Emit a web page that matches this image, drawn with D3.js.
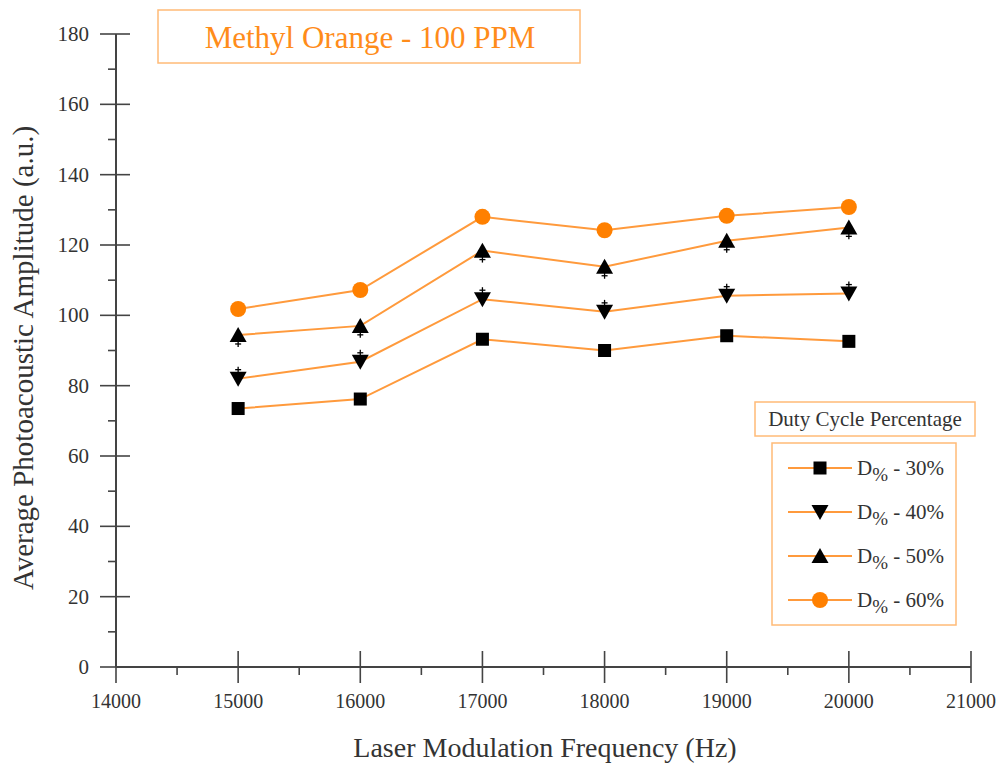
<!DOCTYPE html>
<html>
  <head>
    <title>Methyl Orange - 100 PPM</title>
    <style>
      body,
      html {
        margin: 0;
        padding: 0;
        background: #fff;
      }
    </style>
  </head>
  <body>
    <svg id="svg" width="1005" height="765" font-family="'Liberation Serif', 'Times New Roman', 'DejaVu Serif', serif"></svg>

    <script src="https://cdn.jsdelivr.net/npm/d3@7"></script>
    <script>
      const frequencies = [15000, 16000, 17000, 18000, 19000, 20000];
      const duty30 = [73.5, 76.2, 93.2, 90.0, 94.2, 92.6];
      const duty40 = [82.0, 86.8, 104.6, 101.0, 105.6, 106.2];
      const duty50 = [94.4, 97.0, 118.4, 113.8, 121.2, 125.0];
      const duty60 = [101.8, 107.2, 128.0, 124.2, 128.3, 130.8];
      const err40 = [3.4, 3.4, 3.4, 3.4, 3.4, 3.4];
      const err50 = [3.4, 3.4, 3.4, 3.4, 3.4, 3.4];
      const seriesNames = ['30%', '40%', '50%', '60%'];
      const xTicks = [14000, 15000, 16000, 17000, 18000, 19000, 20000, 21000];
      const yTicks = [0, 20, 40, 60, 80, 100, 120, 140, 160, 180];

      const lineColor = '#ff9a3c';
      const orange = '#ff8000';
      const axisColor = '#444';

      // errDir: +1 draws the bar above the point, -1 below (the other half is hidden by the marker)
      const series = [
        { name: seriesNames[0], values: duty30, err: null, symbol: 'square' },
        { name: seriesNames[1], values: duty40, err: err40, errDir: 1, symbol: 'down' },
        { name: seriesNames[2], values: duty50, err: err50, errDir: -1, symbol: 'up' },
        { name: seriesNames[3], values: duty60, err: null, symbol: 'circle' },
      ];

      const svg = d3.select('#svg');

      const xScale = d3.scaleLinear().domain([14000, 21000]).range([116, 971]);
      const yScale = d3.scaleLinear().domain([0, 180]).range([667, 34]);

      const drawMarker = (g, symbol, cx, cy) => {
        if (symbol === 'square') {
          g.append('rect')
            .attr('x', cx - 6.5)
            .attr('y', cy - 6.5)
            .attr('width', 13)
            .attr('height', 13)
            .attr('fill', '#000');
        } else if (symbol === 'circle') {
          g.append('circle')
            .attr('cx', cx)
            .attr('cy', cy)
            .attr('r', 8)
            .attr('fill', orange);
        } else {
          const s = symbol === 'up' ? -1 : 1;
          g.append('path')
            .attr(
              'd',
              `M${cx - 8.5},${cy - s * 7} L${cx + 8.5},${cy - s * 7} L${cx},${cy + s * 8} Z`
            )
            .attr('fill', '#000');
        }
      };

      // axes
      const axisG = svg.append('g').attr('stroke', axisColor);

      axisG
        .append('line')
        .attr('x1', xScale(14000))
        .attr('x2', xScale(21000))
        .attr('y1', yScale(0))
        .attr('y2', yScale(0))
        .attr('stroke-width', 2);
      axisG
        .append('line')
        .attr('x1', xScale(14000))
        .attr('x2', xScale(14000))
        .attr('y1', yScale(0))
        .attr('y2', yScale(180))
        .attr('stroke-width', 2);

      xTicks.forEach((t) => {
        axisG
          .append('line')
          .attr('x1', xScale(t))
          .attr('x2', xScale(t))
          .attr('y1', yScale(0) - 16)
          .attr('y2', yScale(0) + 16)
          .attr('stroke-width', 1.6);
        if (t < 21000) {
          axisG
            .append('line')
            .attr('x1', xScale(t + 500))
            .attr('x2', xScale(t + 500))
            .attr('y1', yScale(0))
            .attr('y2', yScale(0) + 8)
            .attr('stroke-width', 1.6);
        }
        svg
          .append('text')
          .attr('x', xScale(t))
          .attr('y', 708)
          .attr('text-anchor', 'middle')
          .attr('font-size', 20)
          .attr('fill', '#333')
          .text(t);
      });

      yTicks.forEach((t) => {
        axisG
          .append('line')
          .attr('x1', xScale(14000) - 16)
          .attr('x2', xScale(14000) + 14)
          .attr('y1', yScale(t))
          .attr('y2', yScale(t))
          .attr('stroke-width', 1.6);
        if (t < 180) {
          axisG
            .append('line')
            .attr('x1', xScale(14000) - 8)
            .attr('x2', xScale(14000))
            .attr('y1', yScale(t + 10))
            .attr('y2', yScale(t + 10))
            .attr('stroke-width', 1.6);
        }
        svg
          .append('text')
          .attr('x', 89)
          .attr('y', yScale(t) + 7)
          .attr('text-anchor', 'end')
          .attr('font-size', 21)
          .attr('fill', '#333')
          .text(t);
      });

      svg
        .append('text')
        .attr('x', 545)
        .attr('y', 757)
        .attr('text-anchor', 'middle')
        .attr('font-size', 28)
        .attr('fill', '#333')
        .text('Laser Modulation Frequency (Hz)');

      svg
        .append('text')
        .attr('transform', 'translate(33, 358) rotate(-90)')
        .attr('text-anchor', 'middle')
        .attr('font-size', 29)
        .attr('fill', '#333')
        .text('Average Photoacoustic Amplitude (a.u.)');

      // data
      const linegen = d3
        .line()
        .x((d) => xScale(d.f))
        .y((d) => yScale(d.v));

      const graph = svg.append('g');
      series.forEach((s) => {
        const pts = frequencies.map((f, i) => ({ f: f, v: s.values[i] }));
        graph
          .append('path')
          .attr('d', linegen(pts))
          .attr('stroke', lineColor)
          .attr('stroke-width', 2)
          .attr('fill', 'none');
      });
      series.forEach((s) => {
        frequencies.forEach((f, i) => {
          const cx = xScale(f);
          if (s.err) {
            const y0 = yScale(s.values[i]);
            const y1 = yScale(s.values[i] + s.errDir * s.err[i]);
            graph
              .append('line')
              .attr('x1', cx)
              .attr('x2', cx)
              .attr('y1', y0)
              .attr('y2', y1)
              .attr('stroke', '#000')
              .attr('stroke-width', 1.3);
            graph
              .append('line')
              .attr('x1', cx - 3)
              .attr('x2', cx + 3)
              .attr('y1', y1 + s.errDir * 3)
              .attr('y2', y1 + s.errDir * 3)
              .attr('stroke', '#000')
              .attr('stroke-width', 1.3);
          }
          drawMarker(graph, s.symbol, cx, yScale(s.values[i]));
        });
      });

      // title box
      svg
        .append('rect')
        .attr('x', 158)
        .attr('y', 10)
        .attr('width', 422)
        .attr('height', 53)
        .attr('fill', '#fff')
        .attr('stroke', '#ffbb77')
        .attr('stroke-width', 1.5);
      svg
        .append('text')
        .attr('x', 370)
        .attr('y', 48)
        .attr('text-anchor', 'middle')
        .attr('font-size', 31)
        .attr('fill', '#ff8c1a')
        .text('Methyl Orange - 100 PPM');

      // legend
      svg
        .append('rect')
        .attr('x', 755)
        .attr('y', 402)
        .attr('width', 220)
        .attr('height', 34)
        .attr('fill', '#fff')
        .attr('stroke', '#ffbb77')
        .attr('stroke-width', 1.5);
      svg
        .append('text')
        .attr('x', 865)
        .attr('y', 426)
        .attr('text-anchor', 'middle')
        .attr('font-size', 21)
        .attr('fill', '#333')
        .text('Duty Cycle Percentage');

      svg
        .append('rect')
        .attr('x', 772)
        .attr('y', 443)
        .attr('width', 184)
        .attr('height', 182)
        .attr('fill', '#fff')
        .attr('stroke', '#ffbb77')
        .attr('stroke-width', 1.5);

      const legendY = d3.scalePoint().domain(seriesNames).range([468, 600]);
      series.forEach((s) => {
        const ly = legendY(s.name);
        svg
          .append('line')
          .attr('x1', 788)
          .attr('x2', 852)
          .attr('y1', ly)
          .attr('y2', ly)
          .attr('stroke', lineColor)
          .attr('stroke-width', 2);
        drawMarker(svg, s.symbol, 820, ly);
        const txt = svg
          .append('text')
          .attr('x', 857)
          .attr('y', ly + 7)
          .attr('font-size', 21)
          .attr('fill', '#333');
        txt.append('tspan').text('D');
        txt
          .append('tspan')
          .attr('dy', 6)
          .attr('font-size', 19)
          .text('%');
        txt.append('tspan').attr('dy', -6).text(' - ' + s.name);
      });
    </script>
  </body>
</html>
